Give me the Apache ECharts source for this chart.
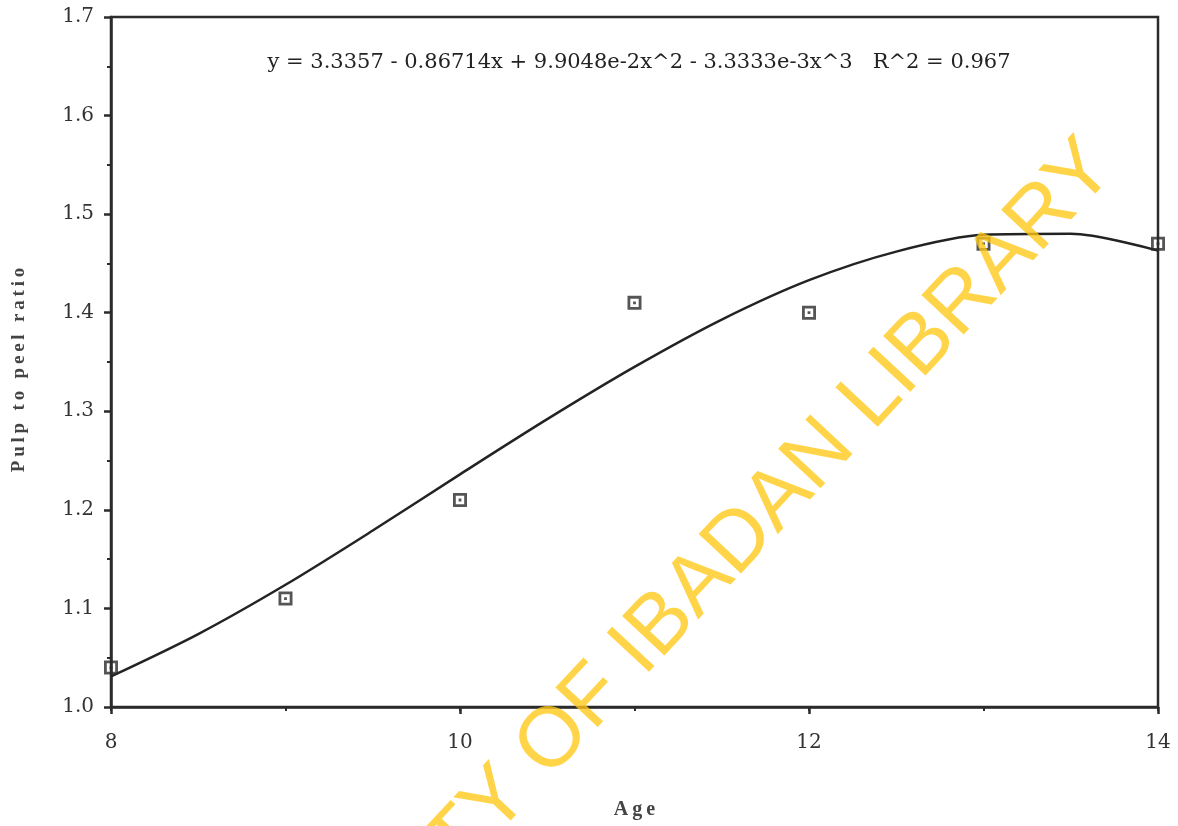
<!DOCTYPE html>
<html>
<head>
<meta charset="utf-8">
<script src="https://cdn.jsdelivr.net/npm/echarts@6/dist/echarts.min.js"></script>
<style>
  html, body { margin: 0; padding: 0; background: #ffffff; }
  #chart { width: 1178px; height: 826px; }
</style>
</head>
<body>
<div id="chart"></div>
<script>
// Observed pulp-to-peel ratio by age
const ages = [8, 9, 10, 11, 12, 13, 14];
const ratios = [1.04, 1.11, 1.21, 1.41, 1.40, 1.47, 1.47];

// Fitted cubic trend, sampled every half year
const fitAges = [8, 8.5, 9, 9.5, 10, 10.5, 11, 11.5, 12, 12.5, 13, 13.5, 14];
const fitRatios = [1.031, 1.074, 1.124, 1.179, 1.236, 1.292, 1.345, 1.393, 1.433, 1.462, 1.479, 1.480, 1.463];

// Axis ticks
const yTicks = [1.0, 1.1, 1.2, 1.3, 1.4, 1.5, 1.6, 1.7];
const xTickLabels = [8, 10, 12, 14];

const fitLabel = 'y = 3.3357 - 0.86714x + 9.9048e-2x^2 - 3.3333e-3x^3   R^2 = 0.967';
const yName = 'Pulp to peel ratio';
const xName = 'Age';
const stamp = 'UNIVERSITY OF IBADAN LIBRARY';

const spaced = (s, sep) => s.split('').join(sep);

const serif = '"DejaVu Serif", "Liberation Serif", serif';
const boldSerif = '"Liberation Serif", "DejaVu Serif", serif';
const ink = '#2b2b2b';

const chart = echarts.init(document.getElementById('chart'));

// Open square with a centre dot
const squareDot = 'path://M0,0H10V10H0Z M2,2V8H8V2Z M4,4H6V6H4Z';

chart.setOption({
  backgroundColor: '#ffffff',
  animation: false,
  grid: {
    left: 111, right: 20, top: 17, bottom: 119,
    containLabel: false, outerBoundsMode: 'none',
    show: true, borderColor: ink, borderWidth: 2.5, backgroundColor: 'transparent'
  },
  title: {
    text: fitLabel,
    left: 634, top: 47, textAlign: 'center',
    textStyle: { fontFamily: serif, fontSize: 21, fontWeight: 'normal', color: '#222' }
  },
  xAxis: [{
    type: 'value', min: 8, max: 14, interval: 1,
    axisLine: { show: true, onZero: false, lineStyle: { color: ink, width: 2.5 } },
    axisTick: { show: true, inside: false, length: 4, lineStyle: { color: ink, width: 2 } },
    splitLine: { show: false },
    axisLabel: {
      fontFamily: serif, fontSize: 20, color: '#333', margin: 26,
      formatter: v => (xTickLabels.indexOf(v) >= 0 ? String(v) : '')
    },
    name: spaced(xName, '\u2009'), nameLocation: 'middle', nameGap: 93,
    nameTextStyle: { fontFamily: boldSerif, fontSize: 20, fontWeight: 'bold', color: '#444' }
  }, {
    // longer marks at the labelled ages
    type: 'value', min: 8, max: 14, interval: 2, position: 'bottom',
    axisLine: { show: false },
    axisTick: { show: true, length: 7, lineStyle: { color: ink, width: 2.5 } },
    axisLabel: { show: false }, splitLine: { show: false }
  }],
  yAxis: {
    type: 'value', min: 1.0, max: 1.7, interval: 0.1,
    axisLine: { show: true, onZero: false, lineStyle: { color: ink, width: 2.5 } },
    axisTick: { show: true, length: 7, lineStyle: { color: ink, width: 2.5 } },
    minorTick: { show: true, splitNumber: 2, length: 4, lineStyle: { color: ink, width: 2 } },
    splitLine: { show: false },
    axisLabel: {
      fontFamily: serif, fontSize: 20, color: '#333', margin: 17,
      formatter: v => (yTicks.some(t => Math.abs(t - v) < 1e-6) ? v.toFixed(1) : '')
    },
    name: spaced(yName, '\u2009'), nameLocation: 'middle', nameGap: 82, nameRotate: 90,
    nameTextStyle: {
      fontFamily: boldSerif, fontSize: 19, fontWeight: 'bold', color: '#444',
      padding: [0, 16, 0, 0]
    }
  },
  series: [{
    type: 'line',
    data: fitAges.map((a, i) => [a, fitRatios[i]]),
    smooth: 0.3, showSymbol: false, clip: false,
    lineStyle: { color: '#232323', width: 2.5 },
    z: 3
  }, {
    type: 'scatter',
    data: ages.map((a, i) => [a, ratios[i]]),
    symbol: squareDot, symbolSize: 14, clip: false,
    itemStyle: { color: '#2a2a2a' },
    z: 4
  }],
  graphic: [{
    type: 'text',
    x: 636, y: 652, rotation: 47 * Math.PI / 180,
    style: {
      text: stamp,
      fontFamily: '"Liberation Sans", Arial, sans-serif',
      fontSize: 84, fill: 'rgba(255, 200, 20, 0.78)',
      align: 'center', verticalAlign: 'middle'
    },
    z: 10
  }]
});
</script>
</body>
</html>
